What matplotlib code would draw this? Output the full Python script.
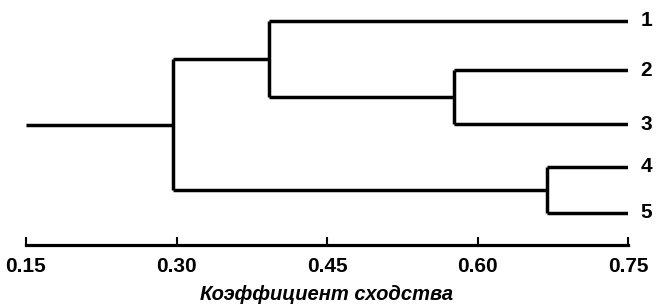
import matplotlib
matplotlib.use("Agg")
import matplotlib.pyplot as plt

plt.rcParams['font.family'] = ['Liberation Sans', 'DejaVu Sans']

leaf_labels = ["1", "2", "3", "4", "5"]
leaf_pos = [21, 70, 124, 167, 213]   # vertical positions of leaves
leaf_value = 0.75
# merge similarities
node_23 = 0.577
node_1_23 = 0.392
node_45 = 0.669
node_root = 0.2965
root_start = 0.15
x_ticks = [0.15, 0.30, 0.45, 0.60, 0.75]
x_label = "Коэффициент сходства"

fig = plt.figure(figsize=(6.57, 3.04), dpi=100)
ax = fig.add_axes([26/657, (304-245)/304, 602/657, 245/304])
lw = 2.5
kw = dict(color='black', lw=lw, solid_capstyle='butt', solid_joinstyle='miter')

def link(ax, x, children):
    ys = [c[1] for c in children]
    ax.plot([x, x], [min(ys), max(ys)], **kw)
    for cx, cy in children:
        ax.plot([x, cx], [cy, cy], **kw)
    return x, sum(ys) / len(ys)

n23 = link(ax, node_23, [(leaf_value, leaf_pos[1]), (leaf_value, leaf_pos[2])])
n123 = link(ax, node_1_23, [(leaf_value, leaf_pos[0]), n23])
n45 = link(ax, node_45, [(leaf_value, leaf_pos[3]), (leaf_value, leaf_pos[4])])
nroot = link(ax, node_root, [n123, n45])
ax.plot([root_start, node_root], [nroot[1], nroot[1]], **kw)

for lab, y in zip(leaf_labels, leaf_pos):
    ax.annotate(lab, (leaf_value, y), xytext=(9, 0), textcoords='offset points',
                ha='left', va='center', fontsize=15, fontweight='bold')

ax.set_xlim(0.15, 0.75)
ax.set_ylim(245, 0)
for s in ['top', 'right', 'left']:
    ax.spines[s].set_visible(False)
ax.spines['bottom'].set_linewidth(2.3)
ax.set_yticks([])
ax.set_xticks(x_ticks)
ax.set_xticklabels([f"{v:.2f}" for v in x_ticks], fontsize=15, fontweight='bold')
ax.tick_params(axis='x', direction='in', length=6, width=1.5, pad=9)
ax.set_xlabel(x_label, fontsize=14.5, fontstyle='italic', fontweight='bold', labelpad=6)
ax.patch.set_visible(False)
fig.savefig("out.png", dpi=100)
